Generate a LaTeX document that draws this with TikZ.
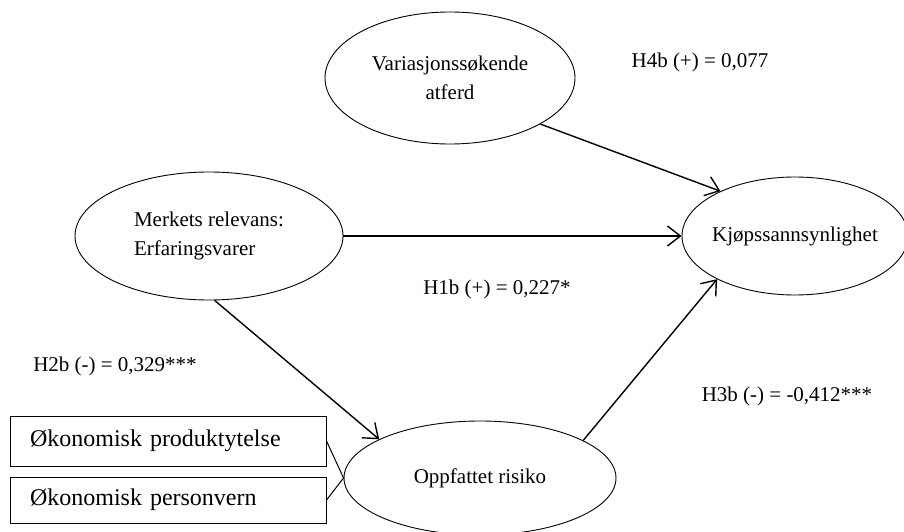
\documentclass[tikz,border=0pt]{standalone}
\usepackage{fontspec}
\setmainfont{Liberation Serif}
\usetikzlibrary{positioning, shapes, arrows.meta}

\begin{document}
\begin{tikzpicture}[x=1pt, y=1pt, on grid, font=\fontsize{21}{28.5}\selectfont,
    latent/.style={ellipse, draw, line width=0.9pt, inner sep=0pt},
    factor/.style={rectangle, draw, line width=1pt, minimum width=316pt,
      text width=276pt, inner xsep=20pt, align=left, font=\fontsize{24}{28}\selectfont},
    effect/.style={line width=1.4pt, -{Straight Barb[length=13pt, width=20pt]}},
    link/.style={line width=1pt}]
  \useasboundingbox (0,0) rectangle (904,531);
  \node[latent, minimum width=268pt, minimum height=128pt, align=left] (merk) at (209,295) {Merkets relevans:\\Erfaringsvarer};
  \node[latent, minimum width=250pt, minimum height=132pt, align=center] (var) [above right=158pt and 241pt of merk] {Variasjonssøkende\\atferd};
  \node[latent, minimum width=226pt, minimum height=118pt, label=center:Kjøpssannsynlighet] (kjop) [right=586pt of merk] {};
  \node[latent, minimum width=272pt, minimum height=114pt] (risk) [below right=242pt and 271pt of merk] {Oppfattet risiko};
  \node[factor, minimum height=50pt] (prod) [below left=205pt and 41pt of merk] {Økonomisk produktytelse};
  \node[factor, minimum height=46pt] (pers) [below=59pt of prod] {Økonomisk personvern};
  % path coefficients
  \node (h4b) at (700,469) {H4b (+) = 0,077};
  \node (h1b) at (497,242) {H1b (+) = 0,227*};
  \node (h2b) at (115,165) {H2b (-) = 0,329***};
  \node (h3b) at (787,135) {H3b (-) = -0,412***};
  \draw[effect] (var.-27.6) -- (kjop.149);
  \draw[effect] (merk.east) -- (merk.east -| kjop.west);
  \draw[effect] (merk.-85) -- (risk.159);
  \draw[effect] (risk.20) -- (kjop.209);
  \draw[link] (prod.east) -- (risk.west);
  \draw[link] (pers.east) -- (risk.west);
\end{tikzpicture}
\end{document}
